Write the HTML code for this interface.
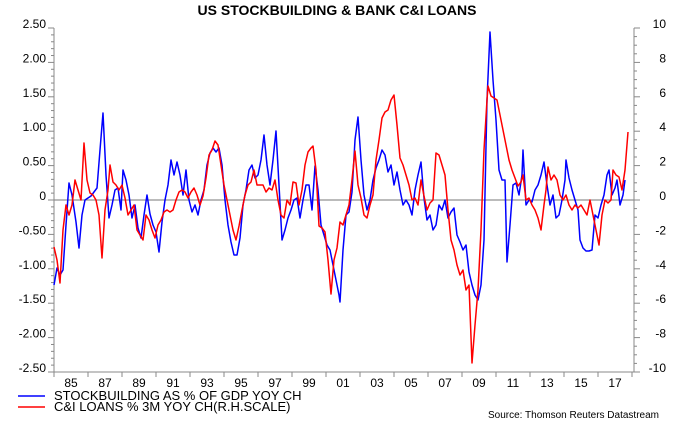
<!DOCTYPE html>
<html><head><meta charset="utf-8"><style>
body{margin:0;background:#fff;width:680px;height:425px;overflow:hidden}
svg{font-family:"Liberation Sans",sans-serif;display:block}
</style></head><body>
<svg id="s" width="680" height="425" viewBox="0 0 680 425">
<text x="337" y="15" text-anchor="middle" font-size="14" font-weight="bold" fill="#000">US STOCKBUILDING &amp; BANK C&amp;I LOANS</text>
<line x1="54" y1="200" x2="634" y2="200" stroke="#777" stroke-width="1"/>
<g id="ax" stroke="#888" stroke-width="1" fill="none">
<line x1="54" y1="28" x2="54" y2="372"/>
<line x1="634" y1="28" x2="634" y2="372"/>
<line x1="54" y1="372" x2="634" y2="372"/>
</g>
<g font-size="12" fill="#000" text-anchor="end" id="ll"></g>
<g font-size="12" fill="#000" text-anchor="end" id="rl"></g>
<g font-size="12" fill="#000" text-anchor="middle" id="xl"></g>
<polyline fill="none" stroke="#0000ff" stroke-width="1.5" stroke-linejoin="round" points="54,285 57,268 60,275 63,270 66,225 69,183 72,195 76,222 79,248 82,215 85,200 88,198 91,196 94,192 97,188 100,150 103,113 106,175 109,218 112,205 115,190 118,188 121,210 123,170 126,180 129,195 132,218 135,205 138,228 141,238 144,215 147,195 150,214 153,225 156,232 159,252 162,222 165,200 168,185 171,160 174,175 177,162 180,175 183,195 186,170 189,200 192,212 195,205 198,215 201,200 204,190 207,165 210,153 213,148 216,152 219,148 222,165 225,200 228,225 231,242 234,255 237,255 240,238 243,205 246,190 249,170 252,165 255,178 258,175 261,160 264,135 267,165 270,185 273,160 276,131 279,185 282,240 285,230 288,218 291,210 294,200 297,198 300,218 303,200 306,185 309,185 312,210 315,166 318,190 321,225 324,235 327,245 330,250 333,265 336,280 339,295 340,302 343,250 346,215 349,212 352,192 355,140 358,117 361,160 364,195 367,210 370,200 373,180 376,168 379,160 382,150 385,155 388,172 391,165 394,185 397,172 400,190 403,205 406,200 409,205 412,215 415,190 418,175 421,162 424,198 427,220 430,215 433,230 436,225 439,205 442,210 445,200 448,218 451,212 454,208 457,235 460,242 463,250 466,245 469,272 472,285 475,295 478,300 481,285 484,240 487,100 490,32 493,80 496,120 499,170 502,180 505,180 507,262 510,225 513,185 516,183 519,195 522,175 523,150 526,205 529,200 532,202 535,190 538,185 541,175 544,162 547,185 550,205 553,195 556,218 559,215 562,200 565,180 566,160 569,178 572,190 575,200 578,210 580,240 583,248 586,251 589,251 592,250 595,215 598,218 601,205 604,195 607,175 609,170 612,195 615,188 617,180 620,205 623,195 625,180"/>
<polyline fill="none" stroke="#ff0000" stroke-width="1.5" stroke-linejoin="round" points="54,247 57,260 60,283 63,230 66,205 69,215 72,205 75,180 78,190 81,200 84,143 87,180 90,193 93,195 96,200 99,215 102,258 105,210 108,190 110,165 113,182 116,185 119,190 122,185 125,198 128,215 131,210 134,205 137,230 140,235 143,240 146,215 149,220 152,230 155,238 158,225 161,220 164,212 167,210 170,212 173,210 176,200 179,192 182,190 185,192 188,198 191,192 194,188 197,195 200,205 203,196 206,178 209,155 212,150 215,141 218,145 221,165 224,185 227,200 230,215 233,230 236,240 239,226 242,210 245,195 248,185 251,182 254,170 257,185 260,185 263,185 266,192 269,188 272,190 275,180 278,200 281,215 284,218 287,200 290,205 293,182 296,183 299,205 302,190 305,165 308,152 311,148 313,146 316,170 319,226 322,228 325,232 328,260 331,294 334,260 337,248 340,222 343,225 346,215 349,205 352,180 355,151 358,185 361,198 364,215 367,218 370,205 373,195 376,160 379,140 382,118 385,112 388,110 391,100 394,95 397,125 400,158 403,165 406,175 409,185 412,200 415,198 418,205 421,180 424,196 427,210 430,203 433,200 436,153 439,155 442,165 445,175 448,210 451,240 454,250 457,265 460,275 463,270 466,290 469,285 472,363 475,325 478,290 481,230 484,150 487,100 488,86 491,96 494,98 497,100 500,115 503,130 506,145 509,160 512,170 515,178 518,186 521,182 523,175 526,200 529,198 532,205 535,210 538,218 541,230 544,205 546,190 548,167 551,180 554,175 557,180 560,195 563,200 566,195 569,205 572,210 575,205 578,208 581,205 584,210 587,215 590,200 593,215 596,230 599,245 602,215 605,200 608,203 611,200 613,170 616,175 619,177 622,190 625,170 628,132"/>
<line x1="18" y1="396" x2="45" y2="396" stroke="#0000ff" stroke-width="1.5"/>
<line x1="18" y1="407" x2="45" y2="407" stroke="#ff0000" stroke-width="1.5"/>
<text x="54" y="400" font-size="13" fill="#000">STOCKBUILDING AS % OF GDP YOY CH</text>
<text x="54" y="411" font-size="13" fill="#000">C&amp;I LOANS % 3M YOY CH(R.H.SCALE)</text>
<text x="659" y="220" font-size="10" fill="#000" text-anchor="end" transform="translate(0,198)">Source: Thomson Reuters Datastream</text>
</svg>
<script>
var ns="http://www.w3.org/2000/svg",ax=document.getElementById('ax');
function ln(x1,y1,x2,y2){var l=document.createElementNS(ns,'line');l.setAttribute('x1',x1);l.setAttribute('y1',y1);l.setAttribute('x2',x2);l.setAttribute('y2',y2);ax.appendChild(l);}
function tx(g,x,y,t){var e=document.createElementNS(ns,'text');e.setAttribute('x',x);e.setAttribute('y',y);e.textContent=t;document.getElementById(g).appendChild(e);}
for(var i=0;i<=50;i++){var y=28+i*344/50;ln(i%5==0?48:51,y,54,y);}
for(var i=0;i<=40;i++){var y=28+i*344/40;ln(634,y,i%4==0?640:637,y);}
var L=["2.50","2.00","1.50","1.00","0.50","0","-0.50","-1.00","-1.50","-2.00","-2.50"];
for(var i=0;i<11;i++){tx('ll',46,28+i*34.4,L[i]);}
for(var i=0;i<11;i++){tx('rl',666,28+i*34.4,String(10-2*i));}
for(var k=0;k<=17;k++){ln(54+34*k,372,54+34*k,377);}
var Y=["85","87","89","91","93","95","97","99","01","03","05","07","09","11","13","15","17"];
for(var k=0;k<17;k++){tx('xl',71+34*k,387,Y[k]);}
</script>
</body></html>
